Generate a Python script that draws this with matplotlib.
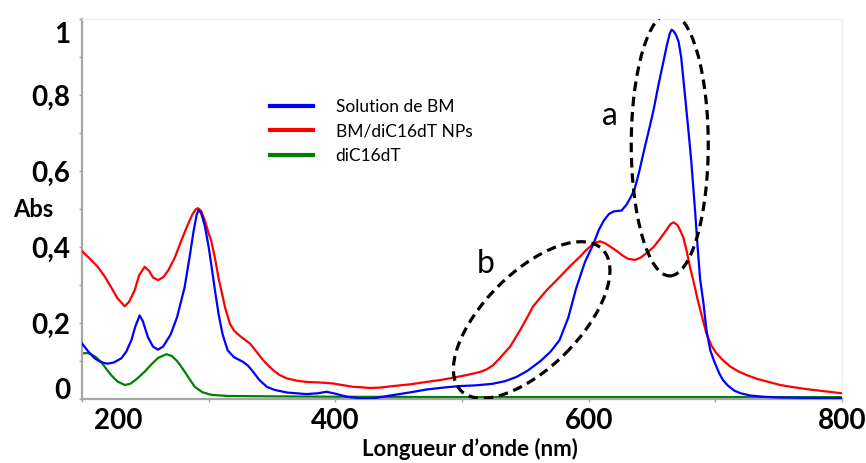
import matplotlib
matplotlib.use("Agg")
import matplotlib.pyplot as plt
from matplotlib.patches import Ellipse
from matplotlib.transforms import ScaledTranslation
from matplotlib.ticker import MultipleLocator

plt.rcParams['font.family'] = ['Lato', 'DejaVu Sans']

# --- data (wavelength nm, absorbance) ---
bm_nm = [200, 205, 210, 215, 220, 225, 231, 235, 239, 242, 245.5, 248, 252, 256, 260, 264,
         270, 275, 281, 285, 288, 290.5, 292, 294, 297, 300, 302, 305, 308, 311, 315, 320,
         327, 331, 335, 340, 346, 352, 362, 377, 386, 393, 400, 409, 420, 430, 445, 460,
         472, 485, 498, 511, 524, 534, 543, 552, 562, 570, 577, 584, 590, 597, 604, 608,
         612, 616, 620, 626, 630, 633, 636, 638, 640, 643, 647, 651, 655, 659, 662, 664,
         665.5, 667, 669, 671, 673, 676, 678.5, 681, 684, 686, 688, 690.5, 693, 696, 699,
         703, 706, 710, 715, 720, 728, 738, 750, 770, 800]
bm_abs = [0.146, 0.125, 0.107, 0.097, 0.093, 0.096, 0.107, 0.125, 0.155, 0.190, 0.220, 0.205,
          0.163, 0.138, 0.130, 0.138, 0.170, 0.215, 0.294, 0.375, 0.440, 0.485, 0.497, 0.490,
          0.455, 0.400, 0.355, 0.285, 0.220, 0.170, 0.128, 0.110, 0.098, 0.088, 0.072, 0.050,
          0.032, 0.024, 0.017, 0.013, 0.015, 0.019, 0.014, 0.006, 0.002, 0.002, 0.010, 0.018,
          0.025, 0.030, 0.034, 0.036, 0.040, 0.047, 0.058, 0.075, 0.100, 0.125, 0.155, 0.215,
          0.290, 0.360, 0.410, 0.445, 0.470, 0.487, 0.494, 0.496, 0.512, 0.530, 0.550, 0.574,
          0.600, 0.644, 0.700, 0.757, 0.825, 0.888, 0.935, 0.962, 0.972, 0.968, 0.958, 0.940,
          0.900, 0.800, 0.715, 0.626, 0.495, 0.400, 0.315, 0.255, 0.181, 0.128, 0.100, 0.068,
          0.050, 0.035, 0.022, 0.015, 0.009, 0.006, 0.004, 0.003, 0.002]

np_nm = [200, 206, 212.6, 218, 223, 228, 233.7, 237, 241.6, 245, 249.5, 253, 256, 260, 264,
         268, 273, 278.4, 283, 287, 290, 291.6, 294, 297, 300, 302, 305, 308, 310, 313,
         316.8, 320, 325, 329, 332.6, 336, 340, 343, 348, 352, 356, 362, 370, 377, 390, 398,
         405, 414, 420, 427, 435, 445.5, 460, 472, 483, 493, 505, 514, 519.5, 524.5, 530, 538,
         546, 551, 556, 561.6, 567, 573, 580, 586, 593, 598, 602.4, 606, 609, 613, 617.5,
         622, 627, 631, 636.6, 641, 646, 651, 656, 661, 664.5, 667, 670, 672.5, 674.7, 677,
         680, 682.6, 686, 690, 693, 697, 701, 706, 712, 718, 724.7, 733, 742, 751, 760, 770,
         777, 790, 800]
np_abs = [0.389, 0.370, 0.347, 0.322, 0.294, 0.265, 0.244, 0.255, 0.286, 0.325, 0.348, 0.337,
          0.320, 0.313, 0.320, 0.338, 0.370, 0.417, 0.455, 0.485, 0.500, 0.502, 0.495, 0.470,
          0.435, 0.417, 0.370, 0.315, 0.286, 0.240, 0.198, 0.180, 0.165, 0.155, 0.146, 0.132,
          0.115, 0.102, 0.085, 0.073, 0.063, 0.054, 0.048, 0.045, 0.043, 0.041, 0.037, 0.032,
          0.031, 0.029, 0.030, 0.034, 0.039, 0.045, 0.050, 0.056, 0.064, 0.071, 0.078, 0.089,
          0.108, 0.138, 0.182, 0.212, 0.243, 0.266, 0.287, 0.307, 0.331, 0.352, 0.374, 0.392,
          0.405, 0.412, 0.415, 0.410, 0.400, 0.390, 0.377, 0.369, 0.366, 0.372, 0.385, 0.399,
          0.420, 0.443, 0.460, 0.465, 0.458, 0.442, 0.425, 0.395, 0.347, 0.312, 0.262, 0.210,
          0.172, 0.140, 0.120, 0.102, 0.085, 0.073, 0.063, 0.053, 0.045, 0.037, 0.032, 0.027,
          0.024, 0.019, 0.015]

dt_nm = [200, 204, 207, 211, 215, 219, 223, 228, 233.7, 238, 243, 249.5, 255, 260, 266.6,
         271, 275, 278.4, 283, 289, 295, 302, 315, 350, 400, 500, 600, 700, 800]
dt_abs = [0.120, 0.121, 0.118, 0.110, 0.098, 0.080, 0.063, 0.046, 0.037, 0.040, 0.052, 0.072,
          0.092, 0.108, 0.118, 0.113, 0.100, 0.085, 0.062, 0.032, 0.018, 0.011, 0.008, 0.007,
          0.006, 0.005, 0.005, 0.005, 0.005]

labels = ["Solution de BM", "BM/diC16dT NPs", "diC16dT"]
x_ticks = [200, 400, 600, 800]
y_ticks = [0, 0.2, 0.4, 0.6, 0.8, 1.0]
y_ticklabels = ["0", "0,2", "0,4", "0,6", "0,8", "1"]

fig = plt.figure(figsize=(8.66, 4.63), dpi=100)
ax = fig.add_axes([0.0947, 0.1382, 0.8776, 0.8207])

l3, = ax.plot(dt_nm, dt_abs, color="#008000", lw=1.6, zorder=2)
l2, = ax.plot(np_nm, np_abs, color="#ff0000", lw=1.6, zorder=3)
l1, = ax.plot(bm_nm, bm_abs, color="#0000ff", lw=1.6, zorder=4)

ax.set_xlim(200, 800)
ax.set_ylim(0, 1.0)
ax.set_xticks(x_ticks)
ax.set_yticks(y_ticks)
ax.set_yticklabels(y_ticklabels)
ax.xaxis.set_minor_locator(MultipleLocator(100))
ax.yaxis.set_minor_locator(MultipleLocator(0.1))
ax.tick_params(which="both", direction="out", color="#a0a0a0", length=2.5, width=1)
ax.tick_params(axis="both", which="major", labelsize=20)
ax.tick_params(axis="y", which="major", pad=6)
ax.tick_params(axis="x", which="major", pad=4)
for t in ax.get_xticklabels() + ax.get_yticklabels():
    t.set_fontweight("bold")

for s in ["left", "bottom"]:
    ax.spines[s].set_color("#a6a6a6")
    ax.spines[s].set_linewidth(1.6)
for s in ["top", "right"]:
    ax.spines[s].set_color("#efefef")
    ax.spines[s].set_linewidth(1)

# the original has a few tick labels nudged inward
xt = ax.xaxis.get_major_ticks()
yt = ax.yaxis.get_major_ticks()
xt[0].label1.set_transform(xt[0].label1.get_transform() + ScaledTranslation(0.36, 0, fig.dpi_scale_trans))
yt[0].label1.set_transform(yt[0].label1.get_transform() + ScaledTranslation(0, 0.11, fig.dpi_scale_trans))
yt[-1].label1.set_transform(yt[-1].label1.get_transform() + ScaledTranslation(0, -0.13, fig.dpi_scale_trans))

ax.set_xlabel("Longueur d’onde (nm)", fontsize=16, fontweight="bold")
ax.xaxis.set_label_coords(0.51, -0.103)
ax.set_ylabel("Abs", fontsize=17, fontweight="bold", rotation=0, ha="center", va="center")
ax.yaxis.set_label_coords(-0.0645, 0.5)

ax.legend([l1, l2, l3], labels, loc="upper left", bbox_to_anchor=(0.247, 0.79),
          frameon=False, fontsize=12.5, handlelength=2.5, handletextpad=1.3,
          labelspacing=0.5, borderpad=0, borderaxespad=0)
for h in ax.get_legend().get_lines():
    h.set_linewidth(3)

# dashed ellipses (sizes in inches, anchored at data points)
ea = Ellipse((0, 0), 0.77, 2.63, angle=0, fill=False, ls=(0, (3, 1.8)), lw=2.3, color="black",
             transform=fig.dpi_scale_trans + ScaledTranslation(664, 0.67, ax.transData), zorder=5)
eb = Ellipse((0, 0), 2.0, 0.95, angle=45, fill=False, ls=(0, (3, 1.8)), lw=2.3, color="black",
             transform=fig.dpi_scale_trans + ScaledTranslation(555, 0.208, ax.transData), zorder=5)
ax.add_patch(ea)
ax.add_patch(eb)
ax.text(617, 0.721, "a", fontsize=23, ha="center", va="baseline")
ax.text(519, 0.332, "b", fontsize=23, ha="center", va="baseline")

fig.savefig("out.png", dpi=100)
